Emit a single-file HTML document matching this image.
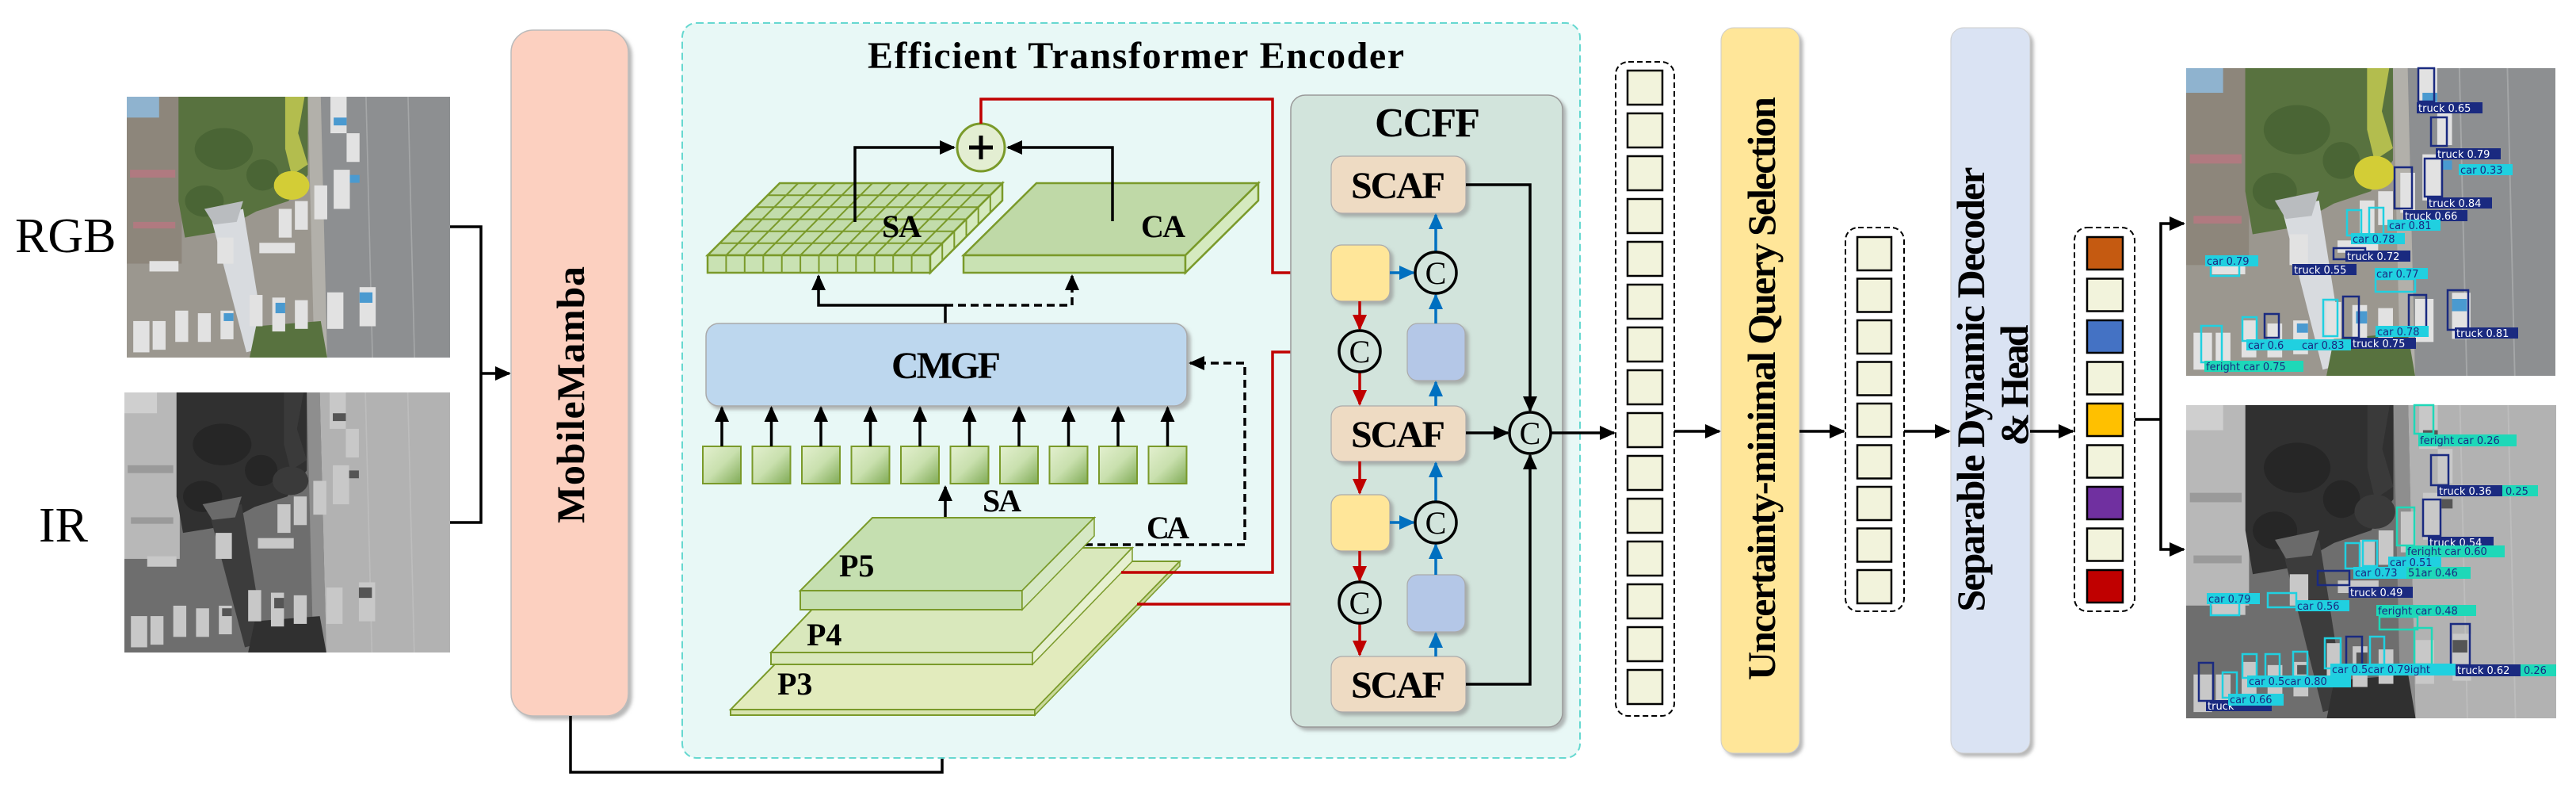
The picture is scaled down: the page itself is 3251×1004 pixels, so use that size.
<!DOCTYPE html>
<html><head><meta charset="utf-8">
<style>
html,body{margin:0;padding:0;background:#fff;}
svg{display:block;}
.t{font-family:"Liberation Serif","Times New Roman",serif;font-weight:bold;fill:#000;}
.lb{font-family:"DejaVu Sans",sans-serif;font-size:13px;}
</style></head>
<body>
<svg width="3251" height="1004" viewBox="0 0 3251 1004" xmlns="http://www.w3.org/2000/svg">
<defs>
<marker id="ak" markerUnits="userSpaceOnUse" markerWidth="20" markerHeight="18" refX="18" refY="9" orient="auto"><path d="M0,0 L20,9 L0,18 z" fill="#000"/></marker>
<marker id="ar" markerUnits="userSpaceOnUse" markerWidth="20" markerHeight="18" refX="18" refY="9" orient="auto"><path d="M0,0 L20,9 L0,18 z" fill="#c00000"/></marker>
<marker id="ab" markerUnits="userSpaceOnUse" markerWidth="20" markerHeight="18" refX="18" refY="9" orient="auto"><path d="M0,0 L20,9 L0,18 z" fill="#0070c0"/></marker>
<linearGradient id="sq" x1="0" y1="0" x2="1" y2="1"><stop offset="0" stop-color="#e3f0cf"/><stop offset="0.5" stop-color="#c9e0ae"/><stop offset="1" stop-color="#7faa55"/></linearGradient>
<filter id="sh" x="-10%" y="-10%" width="130%" height="130%"><feDropShadow dx="4" dy="4" stdDeviation="2" flood-color="#888" flood-opacity="0.6"/></filter>
<g id="scene">
<rect x="0" y="0" width="100" height="100" fill="var(--lot)"/>
<polygon points="60,0 100,0 100,100 62,100" fill="var(--road)"/>
<polygon points="56,0 60,0 62,100 58,100" fill="var(--walk)"/>
<line x1="74" y1="0" x2="76" y2="100" stroke="var(--line)" stroke-width="0.4"/>
<line x1="87" y1="0" x2="89" y2="100" stroke="var(--line)" stroke-width="0.4"/>
<rect x="0" y="0" width="17" height="64" fill="var(--bld)"/>
<rect x="0" y="0" width="10" height="8" fill="var(--roof)"/>
<rect x="1" y="28" width="14" height="3" fill="var(--roof2)"/>
<rect x="2" y="48" width="13" height="2.5" fill="var(--roof2)"/>
<path d="M16,0 L56,0 L56,30 L50,40 L40,44 L28,52 L18,54 L16,40 z" fill="var(--tree)"/>
<ellipse cx="30" cy="20" rx="9" ry="8" fill="var(--tree2)"/>
<ellipse cx="24" cy="40" rx="6" ry="6" fill="var(--tree2)"/>
<ellipse cx="42" cy="30" rx="5" ry="6" fill="var(--tree2)"/>
<path d="M49,0 L55,0 L53,14 L56,26 L51,30 L49,20 z" fill="var(--hedge)"/>
<circle cx="51" cy="34" r="5.5" fill="var(--ytree)"/>
<polygon points="26,46 36,43 43,96 37,98" fill="var(--bridge)"/>
<polygon points="24,43 36,40 34,48 27,49" fill="var(--bridge2)"/>
<path d="M40,88 L60,86 L62,100 L38,100 z" fill="var(--tree)"/>
<g fill="var(--car)">
<rect x="63" y="0" width="5" height="14"/><rect x="68" y="14" width="4" height="11"/><rect x="64" y="28" width="5" height="15"/>
<rect x="58" y="34" width="4" height="13"/><rect x="52" y="40" width="4" height="11"/><rect x="47" y="43" width="4" height="11"/>
<rect x="41" y="56" width="11" height="4"/><rect x="7" y="63" width="9" height="4"/><rect x="28" y="54" width="5" height="10"/>
<rect x="62" y="75" width="5" height="14"/><rect x="72" y="73" width="5" height="15"/><rect x="52" y="78" width="4" height="11"/>
<rect x="45" y="77" width="4" height="13"/><rect x="38" y="76" width="4" height="12"/><rect x="29" y="82" width="4" height="11"/>
<rect x="22" y="83" width="4" height="11"/><rect x="15" y="82" width="4" height="12"/><rect x="8" y="86" width="4" height="11"/><rect x="2" y="86" width="5" height="12"/>
</g>
<g fill="var(--accent)">
<rect x="64" y="8" width="4" height="3"/><rect x="72" y="75" width="4" height="4"/><rect x="46" y="79" width="3" height="4"/><rect x="30" y="83" width="3" height="3"/><rect x="69" y="30" width="3" height="3"/>
</g>
</g>
</defs>

<g style="--lot:#9b978f;--road:#8d8f91;--walk:#b2b0aa;--line:#a5a7a8;--bld:#8d867b;--roof:#8fb3cf;--roof2:#b07a80;--tree:#58723f;--tree2:#4a6535;--hedge:#b3bd4e;--ytree:#d3cd36;--bridge:#d8dbdf;--bridge2:#b9bcbf;--car:#e2e2e2;--accent:#4a9ad0">
<use href="#scene" transform="translate(160,122) scale(4.08,3.29)"/>
<use href="#scene" transform="translate(2759,86) scale(4.66,3.88)"/>
</g>
<g style="--lot:#6e6e6e;--road:#b2b2b2;--walk:#8e8e8e;--line:#bdbdbd;--bld:#b8b8b8;--roof:#cfcfcf;--roof2:#9a9a9a;--tree:#303030;--tree2:#262626;--hedge:#3a3a3a;--ytree:#3a3a3a;--bridge:#3c3c3c;--bridge2:#6a6a6a;--car:#c8c8c8;--accent:#555">
<use href="#scene" transform="translate(157,495) scale(4.11,3.28)"/>
<use href="#scene" transform="translate(2759,511) scale(4.67,3.95)"/>
</g>

<text class="t" x="19" y="318" font-size="62" font-family="Liberation Serif, serif" style="font-weight:normal">RGB</text>
<text class="t" x="49" y="683" font-size="62" font-family="Liberation Serif, serif" style="font-weight:normal">IR</text>

<path d="M568,286 H607 V659 H568" fill="none" stroke="#000" stroke-width="3.5"/>
<line x1="607" y1="471" x2="643" y2="471" stroke="#000" stroke-width="3.5" marker-end="url(#ak)"/>

<rect x="645" y="38" width="148" height="865" rx="28" fill="#fcd0c0" stroke="#bbb" stroke-width="1.5" filter="url(#sh)"/>
<text class="t" font-size="50" text-anchor="middle" transform="translate(737,498) rotate(-90)" textLength="324">MobileMamba</text>
<path d="M720,903 V974 H1189 V930" fill="none" stroke="#000" stroke-width="3.5" marker-end="url(#ak)"/>

<rect x="861" y="29" width="1133" height="927" rx="18" fill="#e8f8f6" stroke="#66d8d0" stroke-width="2" stroke-dasharray="9,5"/>
<text class="t" x="1095" y="86" font-size="48" textLength="677">Efficient Transformer Encoder</text>

<polygon points="984,231 1265,231 1174,322 893,322" fill="#c2dcab" stroke="#7a9a2a" stroke-width="2.5"/>
<rect x="893" y="322" width="281" height="22" fill="#c9e2b3" stroke="#7a9a2a" stroke-width="2.5"/>
<polygon points="1174,322 1265,231 1265,253 1174,344" fill="#d5eabf" stroke="#7a9a2a" stroke-width="2.5"/>
<g stroke="#7a9a2a" stroke-width="2">
<line x1="1007.4" y1="231" x2="916.4" y2="322"/><line x1="1030.8" y1="231" x2="939.8" y2="322"/><line x1="1054.3" y1="231" x2="963.3" y2="322"/><line x1="1077.7" y1="231" x2="986.7" y2="322"/><line x1="1101.1" y1="231" x2="1010.1" y2="322"/><line x1="1124.5" y1="231" x2="1033.5" y2="322"/><line x1="1147.9" y1="231" x2="1056.9" y2="322"/><line x1="1171.3" y1="231" x2="1080.3" y2="322"/><line x1="1194.8" y1="231" x2="1103.8" y2="322"/><line x1="1218.2" y1="231" x2="1127.2" y2="322"/><line x1="1241.6" y1="231" x2="1150.6" y2="322"/>
<line x1="968.8" y1="246.2" x2="1249.8" y2="246.2"/><line x1="953.7" y1="261.3" x2="1234.7" y2="261.3"/><line x1="938.5" y1="276.5" x2="1219.5" y2="276.5"/><line x1="923.3" y1="291.7" x2="1204.3" y2="291.7"/><line x1="908.2" y1="306.8" x2="1189.2" y2="306.8"/>
<line x1="916.4" y1="322" x2="916.4" y2="344"/><line x1="939.8" y1="322" x2="939.8" y2="344"/><line x1="963.3" y1="322" x2="963.3" y2="344"/><line x1="986.7" y1="322" x2="986.7" y2="344"/><line x1="1010.1" y1="322" x2="1010.1" y2="344"/><line x1="1033.5" y1="322" x2="1033.5" y2="344"/><line x1="1056.9" y1="322" x2="1056.9" y2="344"/><line x1="1080.3" y1="322" x2="1080.3" y2="344"/><line x1="1103.8" y1="322" x2="1103.8" y2="344"/><line x1="1127.2" y1="322" x2="1127.2" y2="344"/><line x1="1150.6" y1="322" x2="1150.6" y2="344"/>
<line x1="1189.2" y1="306.8" x2="1189.2" y2="328.8"/><line x1="1204.3" y1="291.7" x2="1204.3" y2="313.7"/><line x1="1219.5" y1="276.5" x2="1219.5" y2="298.5"/><line x1="1234.7" y1="261.3" x2="1234.7" y2="283.3"/><line x1="1249.8" y1="246.2" x2="1249.8" y2="268.2"/>
</g>
<text class="t" x="1113" y="299" font-size="40" textLength="50">SA</text>

<polygon points="1308,231 1588,231 1496,322 1216,322" fill="#bfd9a7" stroke="#7a9a2a" stroke-width="2.5"/>
<rect x="1216" y="322" width="280" height="22" fill="#c9e2b3" stroke="#7a9a2a" stroke-width="2.5"/>
<polygon points="1496,322 1588,231 1588,253 1496,344" fill="#d5eabf" stroke="#7a9a2a" stroke-width="2.5"/>
<text class="t" x="1440" y="299" font-size="40" textLength="56">CA</text>

<path d="M1079,280 V186 H1204" fill="none" stroke="#000" stroke-width="3.5" marker-end="url(#ak)"/>
<path d="M1404,279 V186 H1272" fill="none" stroke="#000" stroke-width="3.5" marker-end="url(#ak)"/>
<circle cx="1238" cy="186" r="30" fill="#e3eed2" stroke="#7a9a2a" stroke-width="3"/>
<path d="M1223,186 H1253 M1238,171 V201" stroke="#000" stroke-width="5"/>
<path d="M1238,156 V125 H1606 V344 H1677" fill="none" stroke="#c00000" stroke-width="3.5" marker-end="url(#ar)"/>

<path d="M1193,408 V385 H1033 V348" fill="none" stroke="#000" stroke-width="3.5" marker-end="url(#ak)"/>
<path d="M1193,385 H1353 V348" fill="none" stroke="#000" stroke-width="3.5" stroke-dasharray="10,6" marker-end="url(#ak)"/>

<rect x="891" y="408" width="607" height="104" rx="16" fill="#bdd7ee" stroke="#aaa" stroke-width="1.5" filter="url(#sh)"/>
<text class="t" x="1125" y="477" font-size="48" textLength="138">CMGF</text>

<g stroke="#7a9a2a" stroke-width="2" fill="url(#sq)">
<rect x="887" y="563" width="48" height="47"/><rect x="949.5" y="563" width="48" height="47"/><rect x="1012" y="563" width="48" height="47"/><rect x="1074.5" y="563" width="48" height="47"/><rect x="1137" y="563" width="48" height="47"/><rect x="1199.5" y="563" width="48" height="47"/><rect x="1262" y="563" width="48" height="47"/><rect x="1324.5" y="563" width="48" height="47"/><rect x="1387" y="563" width="48" height="47"/><rect x="1449.5" y="563" width="48" height="47"/>
</g>
<g stroke="#000" stroke-width="3.5" marker-end="url(#ak)">
<line x1="911" y1="563" x2="911" y2="514"/><line x1="973.5" y1="563" x2="973.5" y2="514"/><line x1="1036" y1="563" x2="1036" y2="514"/><line x1="1098.5" y1="563" x2="1098.5" y2="514"/><line x1="1161" y1="563" x2="1161" y2="514"/><line x1="1223.5" y1="563" x2="1223.5" y2="514"/><line x1="1286" y1="563" x2="1286" y2="514"/><line x1="1348.5" y1="563" x2="1348.5" y2="514"/><line x1="1411" y1="563" x2="1411" y2="514"/><line x1="1473.5" y1="563" x2="1473.5" y2="514"/>
</g>
<line x1="1193" y1="653" x2="1193" y2="614" stroke="#000" stroke-width="3.5" marker-end="url(#ak)"/>
<text class="t" x="1240" y="645" font-size="40" textLength="49">SA</text>
<text class="t" x="1447" y="679" font-size="40" textLength="54">CA</text>
<path d="M1369,687 H1571 V458 H1502" fill="none" stroke="#000" stroke-width="3.5" stroke-dasharray="10,6" marker-end="url(#ak)"/>

<polygon points="1105,708 1489,708 1306,895 922,895" fill="#e2ebbd" stroke="#7a9a2a" stroke-width="2"/>
<rect x="922" y="895" width="384" height="7" fill="#d7e3ae" stroke="#7a9a2a" stroke-width="2"/>
<polygon points="1306,895 1489,708 1489,714 1306,902" fill="#c9d99a" stroke="#7a9a2a" stroke-width="1.5"/>
<polygon points="1099,691 1429,691 1303,823 973,823" fill="#d9e8bc" stroke="#7a9a2a" stroke-width="2"/>
<rect x="973" y="823" width="330" height="15" fill="#d9e8bc" stroke="#7a9a2a" stroke-width="2"/>
<polygon points="1303,823 1429,691 1429,708 1303,838" fill="#e6f0d0" stroke="#7a9a2a" stroke-width="1.5"/>
<polygon points="1101,653 1381,653 1290,745 1010,745" fill="#c5dfb0" stroke="#7a9a2a" stroke-width="2"/>
<rect x="1010" y="745" width="280" height="24" fill="#c5dfb0" stroke="#7a9a2a" stroke-width="2"/>
<polygon points="1290,745 1381,653 1381,676 1290,769" fill="#d6e8c4" stroke="#7a9a2a" stroke-width="1.5"/>
<text class="t" x="1059" y="727" font-size="40">P5</text>
<text class="t" x="1018" y="814" font-size="40">P4</text>
<text class="t" x="981" y="876" font-size="40">P3</text>
<path d="M1415,722 H1606 V444 H1688" fill="none" stroke="#c00000" stroke-width="3.5" marker-end="url(#ar)"/>
<path d="M1435,762 H1688" fill="none" stroke="#c00000" stroke-width="3.5" marker-end="url(#ar)"/>

<rect x="1629" y="120" width="343" height="797" rx="18" fill="#d2e4dc" stroke="#999" stroke-width="1.5" filter="url(#sh)"/>
<text class="t" x="1735" y="172" font-size="52" textLength="133">CCFF</text>
<g filter="url(#sh)" stroke="#aaa" stroke-width="1.2">
<rect x="1680" y="197" width="170" height="72" rx="14" fill="#eedbc3"/>
<rect x="1680" y="512" width="170" height="70" rx="14" fill="#eedbc3"/>
<rect x="1680" y="828" width="170" height="70" rx="14" fill="#eedbc3"/>
<rect x="1680" y="309" width="74" height="71" rx="13" fill="#ffe699"/>
<rect x="1680" y="624" width="74" height="71" rx="13" fill="#ffe699"/>
<rect x="1776" y="408" width="73" height="72" rx="13" fill="#b4c7e7"/>
<rect x="1776" y="725" width="73" height="72" rx="13" fill="#b4c7e7"/>
</g>
<text class="t" x="1705" y="250" font-size="48" textLength="119">SCAF</text>
<text class="t" x="1705" y="564" font-size="48" textLength="119">SCAF</text>
<text class="t" x="1705" y="880" font-size="48" textLength="119">SCAF</text>
<g stroke="#0070c0" stroke-width="3.5" marker-end="url(#ab)">
<line x1="1754" y1="344" x2="1784" y2="344"/><line x1="1812" y1="318" x2="1812" y2="271"/><line x1="1812" y1="408" x2="1812" y2="372"/><line x1="1812" y1="512" x2="1812" y2="482"/>
<line x1="1754" y1="659" x2="1784" y2="659"/><line x1="1812" y1="633" x2="1812" y2="584"/><line x1="1812" y1="725" x2="1812" y2="687"/><line x1="1812" y1="828" x2="1812" y2="799"/>
</g>
<g stroke="#c00000" stroke-width="3.5" marker-end="url(#ar)">
<line x1="1716" y1="380" x2="1716" y2="415"/><line x1="1716" y1="470" x2="1716" y2="510"/><line x1="1716" y1="582" x2="1716" y2="622"/><line x1="1716" y1="695" x2="1716" y2="732"/><line x1="1716" y1="787" x2="1716" y2="826"/>
</g>
<path d="M1850,233 H1931 V518" fill="none" stroke="#000" stroke-width="3.5" marker-end="url(#ak)"/>
<path d="M1850,863 H1931 V574" fill="none" stroke="#000" stroke-width="3.5" marker-end="url(#ak)"/>
<line x1="1850" y1="546" x2="1903" y2="546" stroke="#000" stroke-width="3.5" marker-end="url(#ak)"/>
<g fill="none" stroke="#000" stroke-width="3.5">
<circle cx="1812" cy="344" r="26"/><circle cx="1716" cy="443" r="26"/><circle cx="1812" cy="659" r="26"/><circle cx="1716" cy="760" r="26"/><circle cx="1931" cy="546" r="26"/>
</g>
<g class="t" font-size="40" style="font-weight:normal" text-anchor="middle">
<text x="1812" y="358">C</text><text x="1716" y="457">C</text><text x="1812" y="673">C</text><text x="1716" y="774">C</text><text x="1931" y="560">C</text>
</g>
<line x1="1957" y1="546" x2="2037" y2="546" stroke="#000" stroke-width="3.5" marker-end="url(#ak)"/>

<rect x="2039" y="78" width="74" height="825" rx="16" fill="#fff" stroke="#000" stroke-width="2" stroke-dasharray="7,4"/>
<g fill="#f2f3dc" stroke="#000" stroke-width="2.5">
<rect x="2054" y="89" width="44" height="43"/><rect x="2054" y="143" width="44" height="43"/><rect x="2054" y="197" width="44" height="43"/><rect x="2054" y="251" width="44" height="43"/><rect x="2054" y="305" width="44" height="43"/><rect x="2054" y="359" width="44" height="43"/><rect x="2054" y="413" width="44" height="43"/><rect x="2054" y="467" width="44" height="43"/><rect x="2054" y="521" width="44" height="43"/><rect x="2054" y="575" width="44" height="43"/><rect x="2054" y="629" width="44" height="43"/><rect x="2054" y="683" width="44" height="43"/><rect x="2054" y="737" width="44" height="43"/><rect x="2054" y="791" width="44" height="43"/><rect x="2054" y="845" width="44" height="43"/>
</g>
<line x1="2113" y1="544" x2="2170" y2="544" stroke="#000" stroke-width="3.5" marker-end="url(#ak)"/>

<rect x="2172" y="35" width="99" height="915" rx="16" fill="#ffe699" stroke="#ccc" stroke-width="1" filter="url(#sh)"/>
<text class="t" font-size="50" text-anchor="middle" transform="translate(2240,490) rotate(-90)" textLength="736">Uncertainty-minimal Query Selection</text>
<line x1="2271" y1="544" x2="2327" y2="544" stroke="#000" stroke-width="3.5" marker-end="url(#ak)"/>

<rect x="2329" y="287" width="74" height="484" rx="16" fill="#fff" stroke="#000" stroke-width="2" stroke-dasharray="7,4"/>
<g fill="#f2f3dc" stroke="#000" stroke-width="2.5">
<rect x="2344" y="299" width="43" height="42"/><rect x="2344" y="351.5" width="43" height="42"/><rect x="2344" y="404" width="43" height="42"/><rect x="2344" y="456.5" width="43" height="42"/><rect x="2344" y="509" width="43" height="42"/><rect x="2344" y="561.5" width="43" height="42"/><rect x="2344" y="614" width="43" height="42"/><rect x="2344" y="666.5" width="43" height="42"/><rect x="2344" y="719" width="43" height="42"/>
</g>
<line x1="2403" y1="544" x2="2460" y2="544" stroke="#000" stroke-width="3.5" marker-end="url(#ak)"/>

<rect x="2462" y="35" width="100" height="915" rx="16" fill="#dae3f3" stroke="#ccc" stroke-width="1" filter="url(#sh)"/>
<text class="t" font-size="50" text-anchor="middle" transform="translate(2504,491) rotate(-90)" textLength="561">Separable Dynamic Decoder</text>
<text class="t" font-size="50" text-anchor="middle" transform="translate(2559,486) rotate(-90)" textLength="153">&amp; Head</text>
<line x1="2562" y1="544" x2="2616" y2="544" stroke="#000" stroke-width="3.5" marker-end="url(#ak)"/>

<rect x="2618" y="287" width="76" height="484" rx="16" fill="#fff" stroke="#000" stroke-width="2" stroke-dasharray="7,4"/>
<g stroke="#000" stroke-width="2.5">
<rect x="2634" y="299" width="45" height="41" fill="#c55a11"/><rect x="2634" y="351.5" width="45" height="41" fill="#f2f3dc"/><rect x="2634" y="404" width="45" height="41" fill="#4472c4"/><rect x="2634" y="456.5" width="45" height="41" fill="#f2f3dc"/><rect x="2634" y="509" width="45" height="41" fill="#ffc000"/><rect x="2634" y="561.5" width="45" height="41" fill="#f2f3dc"/><rect x="2634" y="614" width="45" height="41" fill="#7030a0"/><rect x="2634" y="666.5" width="45" height="41" fill="#f2f3dc"/><rect x="2634" y="719" width="45" height="41" fill="#c00000"/>
</g>
<path d="M2694,529 H2727" stroke="#000" stroke-width="3.5"/>
<path d="M2727,529 V282 H2756" fill="none" stroke="#000" stroke-width="3.5" marker-end="url(#ak)"/>
<path d="M2727,529 V693 H2756" fill="none" stroke="#000" stroke-width="3.5" marker-end="url(#ak)"/>

<g fill="none" stroke-width="2.5">
<rect x="3052" y="86" width="20" height="42" stroke="#1a2a80"/><rect x="3068" y="148" width="20" height="36" stroke="#1a2a80"/><rect x="3060" y="200" width="22" height="48" stroke="#1a2a80"/><rect x="3022" y="211" width="22" height="52" stroke="#1a2a80"/>
<rect x="2990" y="262" width="18" height="34" stroke="#20d0e0"/><rect x="2962" y="265" width="18" height="32" stroke="#20d0e0"/><rect x="2945" y="313" width="40" height="14" stroke="#1a2a80"/><rect x="2790" y="334" width="36" height="14" stroke="#20d0e0"/>
<rect x="2998" y="352" width="50" height="16" stroke="#20d0e0"/><rect x="3040" y="372" width="22" height="44" stroke="#1a2a80"/><rect x="3089" y="366" width="26" height="50" stroke="#1a2a80"/>
<rect x="2957" y="374" width="20" height="52" stroke="#1a2a80"/><rect x="2932" y="378" width="18" height="46" stroke="#20d0e0"/><rect x="2778" y="411" width="26" height="46" stroke="#20d0e0"/><rect x="2830" y="400" width="18" height="30" stroke="#20d0e0"/><rect x="2858" y="396" width="18" height="30" stroke="#1a2a80"/>
</g>
<g class="lb">
<rect x="3050" y="129" width="83" height="14" fill="#1a2a80"/><text x="3052" y="141" fill="#fff">truck 0.65</text>
<rect x="3074" y="187" width="82" height="14" fill="#1a2a80"/><text x="3076" y="199" fill="#fff">truck 0.79</text>
<rect x="3103" y="207" width="68" height="14" fill="#20d0e0"/><text x="3105" y="219" fill="#1a2a80">car 0.33</text>
<rect x="3063" y="249" width="82" height="14" fill="#1a2a80"/><text x="3065" y="261" fill="#fff">truck 0.84</text>
<rect x="3033" y="265" width="81" height="14" fill="#1a2a80"/><text x="3035" y="277" fill="#fff">truck 0.66</text>
<rect x="3013" y="277" width="67" height="14" fill="#20d0e0"/><text x="3015" y="289" fill="#1a2a80">car 0.81</text>
<rect x="2967" y="294" width="68" height="14" fill="#20d0e0"/><text x="2969" y="306" fill="#1a2a80">car 0.78</text>
<rect x="2960" y="316" width="82" height="14" fill="#1a2a80"/><text x="2962" y="328" fill="#fff">truck 0.72</text>
<rect x="2783" y="322" width="67" height="14" fill="#20d0e0"/><text x="2785" y="334" fill="#1a2a80">car 0.79</text>
<rect x="2893" y="333" width="81" height="14" fill="#1a2a80"/><text x="2895" y="345" fill="#fff">truck 0.55</text>
<rect x="2997" y="338" width="67" height="14" fill="#20d0e0"/><text x="2999" y="350" fill="#1a2a80">car 0.77</text>
<rect x="2998" y="411" width="67" height="14" fill="#20d0e0"/><text x="3000" y="423" fill="#1a2a80">car 0.78</text>
<rect x="3098" y="413" width="80" height="14" fill="#1a2a80"/><text x="3100" y="425" fill="#fff">truck 0.81</text>
<rect x="2967" y="426" width="82" height="14" fill="#1a2a80"/><text x="2969" y="438" fill="#fff">truck 0.75</text>
<rect x="2835" y="428" width="68" height="14" fill="#20d0e0"/><text x="2837" y="440" fill="#1a2a80">car 0.6</text>
<rect x="2903" y="428" width="64" height="14" fill="#20d0e0"/><text x="2905" y="440" fill="#1a2a80">car 0.83</text>
<rect x="2782" y="455" width="125" height="14" fill="#1ed8b8"/><text x="2784" y="467" fill="#1a2a80">feright car 0.75</text>
</g>

<g fill="none" stroke-width="2.5">
<rect x="3047" y="511" width="24" height="36" stroke="#1ed8b8"/><rect x="3068" y="574" width="22" height="38" stroke="#1a2a80"/><rect x="3058" y="630" width="22" height="46" stroke="#1a2a80"/><rect x="3025" y="640" width="22" height="48" stroke="#1ed8b8"/>
<rect x="2960" y="685" width="18" height="32" stroke="#20d0e0"/><rect x="2982" y="682" width="18" height="32" stroke="#20d0e0"/><rect x="2925" y="720" width="40" height="18" stroke="#1a2a80"/><rect x="2790" y="760" width="36" height="16" stroke="#20d0e0"/><rect x="2862" y="748" width="36" height="18" stroke="#20d0e0"/>
<rect x="3003" y="778" width="48" height="16" stroke="#1ed8b8"/><rect x="3047" y="792" width="22" height="46" stroke="#1ed8b8"/><rect x="3093" y="787" width="24" height="52" stroke="#1a2a80"/>
<rect x="2934" y="805" width="20" height="38" stroke="#20d0e0"/><rect x="2961" y="803" width="20" height="42" stroke="#1a2a80"/><rect x="2991" y="803" width="18" height="38" stroke="#20d0e0"/>
<rect x="2830" y="825" width="18" height="30" stroke="#20d0e0"/><rect x="2859" y="825" width="18" height="30" stroke="#20d0e0"/><rect x="2894" y="822" width="18" height="32" stroke="#20d0e0"/><rect x="2775" y="836" width="18" height="48" stroke="#1a2a80"/><rect x="2805" y="848" width="18" height="32" stroke="#20d0e0"/>
</g>
<g class="lb">
<rect x="3052" y="548" width="124" height="15" fill="#1ed8b8"/><text x="3054" y="560" fill="#1a2a80">feright car 0.26</text>
<rect x="3158" y="612" width="45" height="14" fill="#1ed8b8"/><text x="3162" y="624" fill="#1a2a80">0.25</text>
<rect x="3076" y="612" width="82" height="14" fill="#1a2a80"/><text x="3078" y="624" fill="#fff">truck 0.36</text>
<rect x="3064" y="677" width="83" height="14" fill="#1a2a80"/><text x="3066" y="689" fill="#fff">truck 0.54</text>
<rect x="3036" y="688" width="125" height="15" fill="#1ed8b8"/><text x="3038" y="700" fill="#1a2a80">feright car 0.60</text>
<rect x="3014" y="702" width="67" height="14" fill="#20d0e0"/><text x="3016" y="714" fill="#1a2a80">car 0.51</text>
<rect x="3037" y="715" width="81" height="15" fill="#1ed8b8"/><text x="3039" y="727" fill="#1a2a80">51ar 0.46</text>
<rect x="2970" y="715" width="67" height="15" fill="#20d0e0"/><text x="2972" y="727" fill="#1a2a80">car 0.73</text>
<rect x="2964" y="740" width="81" height="14" fill="#1a2a80"/><text x="2966" y="752" fill="#fff">truck 0.49</text>
<rect x="2785" y="748" width="67" height="14" fill="#20d0e0"/><text x="2787" y="760" fill="#1a2a80">car 0.79</text>
<rect x="2897" y="757" width="68" height="14" fill="#20d0e0"/><text x="2899" y="769" fill="#1a2a80">car 0.56</text>
<rect x="2999" y="763" width="126" height="14" fill="#1ed8b8"/><text x="3001" y="775" fill="#1a2a80">feright car 0.48</text>
<rect x="2941" y="837" width="158" height="15" fill="#20d0e0"/><text x="2943" y="849" fill="#1a2a80">car 0.5car 0.79ight</text>
<rect x="3181" y="838" width="45" height="15" fill="#1ed8b8"/><text x="3185" y="850" fill="#1a2a80">0.26</text>
<rect x="3099" y="838" width="82" height="15" fill="#1a2a80"/><text x="3101" y="850" fill="#fff">truck 0.62</text>
<rect x="2836" y="852" width="131" height="15" fill="#20d0e0"/><text x="2838" y="864" fill="#1a2a80">car 0.5car 0.80</text>
<rect x="2784" y="883" width="83" height="14" fill="#1a2a80"/><text x="2786" y="895" fill="#fff">truck</text>
<rect x="2812" y="875" width="70" height="15" fill="#20d0e0"/><text x="2814" y="887" fill="#1a2a80">car 0.66</text>
</g>
</svg>
</body></html>
